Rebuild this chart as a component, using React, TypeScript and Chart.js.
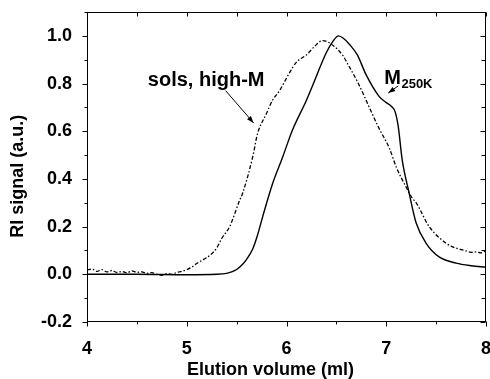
import React, { useEffect, useRef } from 'react';
import { Chart, registerables } from 'chart.js';

Chart.register(...registerables);

// ---- Data ----
const seriesNames = ['M250K', 'sols, high-M'];

const solidX = [4.0, 4.5, 5.0, 5.3, 5.4, 5.45, 5.5, 5.55, 5.6, 5.66, 5.71, 5.76, 5.86, 5.96, 6.06, 6.2, 6.26, 6.4, 6.47, 6.52, 6.57, 6.63, 6.71, 6.8, 6.93, 7.0, 7.05, 7.09, 7.12, 7.16, 7.23, 7.3, 7.4, 7.53, 7.7, 7.85, 8.0];
const solidY = [0.0, 0.0, -0.002, 0.0, 0.004, 0.01, 0.02, 0.038, 0.063, 0.105, 0.165, 0.24, 0.38, 0.49, 0.605, 0.73, 0.79, 0.93, 0.98, 1.0, 0.99, 0.965, 0.92, 0.835, 0.745, 0.72, 0.705, 0.68, 0.62, 0.48, 0.34, 0.215, 0.13, 0.073, 0.047, 0.036, 0.03];

const dashX = [4.0, 4.05, 4.1, 4.15, 4.2, 4.25, 4.3, 4.35, 4.4, 4.45, 4.5, 4.55, 4.6, 4.65, 4.7, 4.75, 4.8, 4.85, 4.9, 4.95, 5.0, 5.05, 5.1, 5.15, 5.2, 5.26, 5.3, 5.35, 5.43, 5.53, 5.56, 5.66, 5.71, 5.8, 5.86, 5.93, 6.03, 6.1, 6.2, 6.28, 6.36, 6.45, 6.56, 6.63, 6.72, 6.83, 6.93, 7.03, 7.1, 7.2, 7.26, 7.3, 7.43, 7.6, 7.65, 7.7, 7.75, 7.8, 7.85, 7.9, 7.95, 8.0];
const dashY = [0.018, 0.022, 0.012, 0.02, 0.01, 0.016, 0.008, 0.012, 0.006, 0.014, 0.008, 0.01, 0.004, 0.007, 0.0, -0.004, 0.003, 0.0, 0.008, 0.012, 0.02, 0.03, 0.045, 0.058, 0.07, 0.09, 0.11, 0.15, 0.2, 0.31, 0.34, 0.49, 0.59, 0.675, 0.73, 0.77, 0.845, 0.89, 0.92, 0.955, 0.98, 0.965, 0.92, 0.87, 0.8, 0.7, 0.61, 0.53, 0.45, 0.365, 0.32, 0.3, 0.2, 0.13, 0.118, 0.11, 0.104, 0.098, 0.092, 0.094, 0.09, 0.1];

const xMin = 4;
const xMax = 8;
const yMin = -0.2;
const yMax = 1.1;
const xTitle = 'Elution volume (ml)';
const yTitle = 'RI signal (a.u.)';

// annotation anchors in data units
const solsLabelPos = [4.61, 0.79];
const solsArrowFrom = [5.39, 0.77];
const solsArrowTo = [5.67, 0.635];
const mLabelPos = [6.98, 0.8];
const mArrowFrom = [7.12, 0.79];
const mArrowTo = [7.02, 0.76];

const FONT = '"Liberation Sans", Arial, Helvetica, sans-serif';

function drawArrow(ctx: CanvasRenderingContext2D, x1: number, y1: number, x2: number, y2: number) {
  ctx.beginPath();
  ctx.moveTo(x1, y1);
  ctx.lineTo(x2, y2);
  ctx.stroke();
  const a = Math.atan2(y2 - y1, x2 - x1);
  const L = 7, W = 2.6;
  ctx.beginPath();
  ctx.moveTo(x2, y2);
  ctx.lineTo(x2 - L * Math.cos(a) + W * Math.sin(a), y2 - L * Math.sin(a) - W * Math.cos(a));
  ctx.lineTo(x2 - L * Math.cos(a) - W * Math.sin(a), y2 - L * Math.sin(a) + W * Math.cos(a));
  ctx.closePath();
  ctx.fill();
}

const framePlugin = {
  id: 'framePlugin',
  afterDraw(chart: any) {
    const { ctx, chartArea: a, scales } = chart;
    const xs = scales.x, ys = scales.y;
    ctx.save();
    ctx.strokeStyle = '#000';
    ctx.fillStyle = '#000';
    ctx.lineWidth = 1;
    const L = Math.round(a.left) + 0.5, R = Math.round(a.right) - 0.5;
    const T = Math.round(a.top) + 0.5, B = Math.round(a.bottom) - 0.5;
    ctx.strokeRect(L, T, R - L, B - T);
    ctx.beginPath();
    // y ticks
    for (let k = -2; k <= 11; k++) {
      const py = Math.round(ys.getPixelForValue(k / 10)) + 0.5;
      const major = k % 2 === 0;
      const lenL = major ? 5 : 3;
      const lenR = major ? 5 : 4;
      ctx.moveTo(L - lenL, py); ctx.lineTo(L, py);
      ctx.moveTo(R, py); ctx.lineTo(R - lenR, py);
    }
    // x ticks
    for (let k = 8; k <= 16; k++) {
      const px = Math.round(xs.getPixelForValue(k / 2)) + 0.5;
      const major = k % 2 === 0;
      const len = major ? 5 : 3;
      ctx.moveTo(px, B); ctx.lineTo(px, B + len);
      ctx.moveTo(px, T); ctx.lineTo(px, T + 4);
    }
    ctx.stroke();

    // axis titles
    ctx.font = `bold 18px ${FONT}`;
    ctx.textAlign = 'center';
    ctx.textBaseline = 'alphabetic';
    ctx.fillText(xTitle, a.left + (a.right - a.left) * 0.46, 375);
    ctx.save();
    ctx.translate(23, a.top + (a.bottom - a.top) * 0.53);
    ctx.rotate(-Math.PI / 2);
    ctx.fillText(yTitle, 0, 0);
    ctx.restore();

    // annotations
    ctx.textAlign = 'left';
    ctx.font = `bold 20px ${FONT}`;
    ctx.fillText(seriesNames[1], xs.getPixelForValue(solsLabelPos[0]), ys.getPixelForValue(solsLabelPos[1]));
    const mx = xs.getPixelForValue(mLabelPos[0]);
    const my = ys.getPixelForValue(mLabelPos[1]);
    ctx.fillText('M', mx, my);
    const mw = ctx.measureText('M').width;
    ctx.font = `bold 13px ${FONT}`;
    ctx.fillText(seriesNames[0].slice(1), mx + mw + 0.5, my + 4);

    ctx.lineWidth = 1;
    drawArrow(ctx, xs.getPixelForValue(solsArrowFrom[0]), ys.getPixelForValue(solsArrowFrom[1]),
      xs.getPixelForValue(solsArrowTo[0]), ys.getPixelForValue(solsArrowTo[1]));
    drawArrow(ctx, xs.getPixelForValue(mArrowFrom[0]), ys.getPixelForValue(mArrowFrom[1]),
      xs.getPixelForValue(mArrowTo[0]), ys.getPixelForValue(mArrowTo[1]));
    ctx.restore();
  },
};

export default function App() {
  const ref = useRef<HTMLCanvasElement | null>(null);
  useEffect(() => {
    if (!ref.current) return;
    const chart = new Chart(ref.current, {
      type: 'line',
      data: {
        datasets: [
          {
            label: seriesNames[0],
            data: solidX.map((x, i) => ({ x, y: solidY[i] })),
            borderColor: '#000',
            borderWidth: 1.4,
            pointRadius: 0,
            cubicInterpolationMode: 'monotone',
            fill: false,
          },
          {
            label: seriesNames[1],
            data: dashX.map((x, i) => ({ x, y: dashY[i] })),
            borderColor: '#000',
            borderWidth: 1.3,
            borderDash: [4, 2, 1.5, 2],
            pointRadius: 0,
            cubicInterpolationMode: 'monotone',
            fill: false,
          },
        ],
      },
      options: {
        responsive: false,
        animation: false,
        layout: { padding: { left: 0, top: 12, right: 4, bottom: 0 } },
        plugins: { legend: { display: false }, tooltip: { enabled: false } },
        scales: {
          x: {
            type: 'linear',
            min: xMin,
            max: xMax,
            grid: { display: false },
            border: { display: false },
            ticks: {
              stepSize: 0.5,
              autoSkip: false,
              maxRotation: 0,
              padding: 8,
              color: '#000',
              font: { size: 18, weight: 'bold', family: FONT },
              callback: (v: any) => (Number.isInteger(Number(v)) ? String(v) : ''),
            },
            afterFit: (s: any) => { s.height = 57; s.paddingLeft = 0; s.paddingRight = 0; },
          },
          y: {
            type: 'linear',
            min: yMin,
            max: yMax,
            grid: { display: false },
            border: { display: false },
            ticks: {
              stepSize: 0.1,
              autoSkip: false,
              padding: 7,
              color: '#000',
              font: { size: 18, weight: 'bold', family: FONT },
              callback: (v: any) => {
                const k = Math.round(Number(v) * 10);
                return k % 2 === 0 && k <= 10 ? (k / 10).toFixed(1) : '';
              },
            },
            afterFit: (s: any) => { s.width = 87; s.paddingTop = 0; s.paddingBottom = 0; },
          },
        },
      } as any,
      plugins: [framePlugin],
    });
    return () => chart.destroy();
  }, []);
  return (
    <div style={{ position: 'absolute', left: 0, top: 0, width: 490, height: 379, background: '#fff' }}>
      <canvas ref={ref} width={490} height={379} style={{ display: 'block' }} />
    </div>
  );
}
